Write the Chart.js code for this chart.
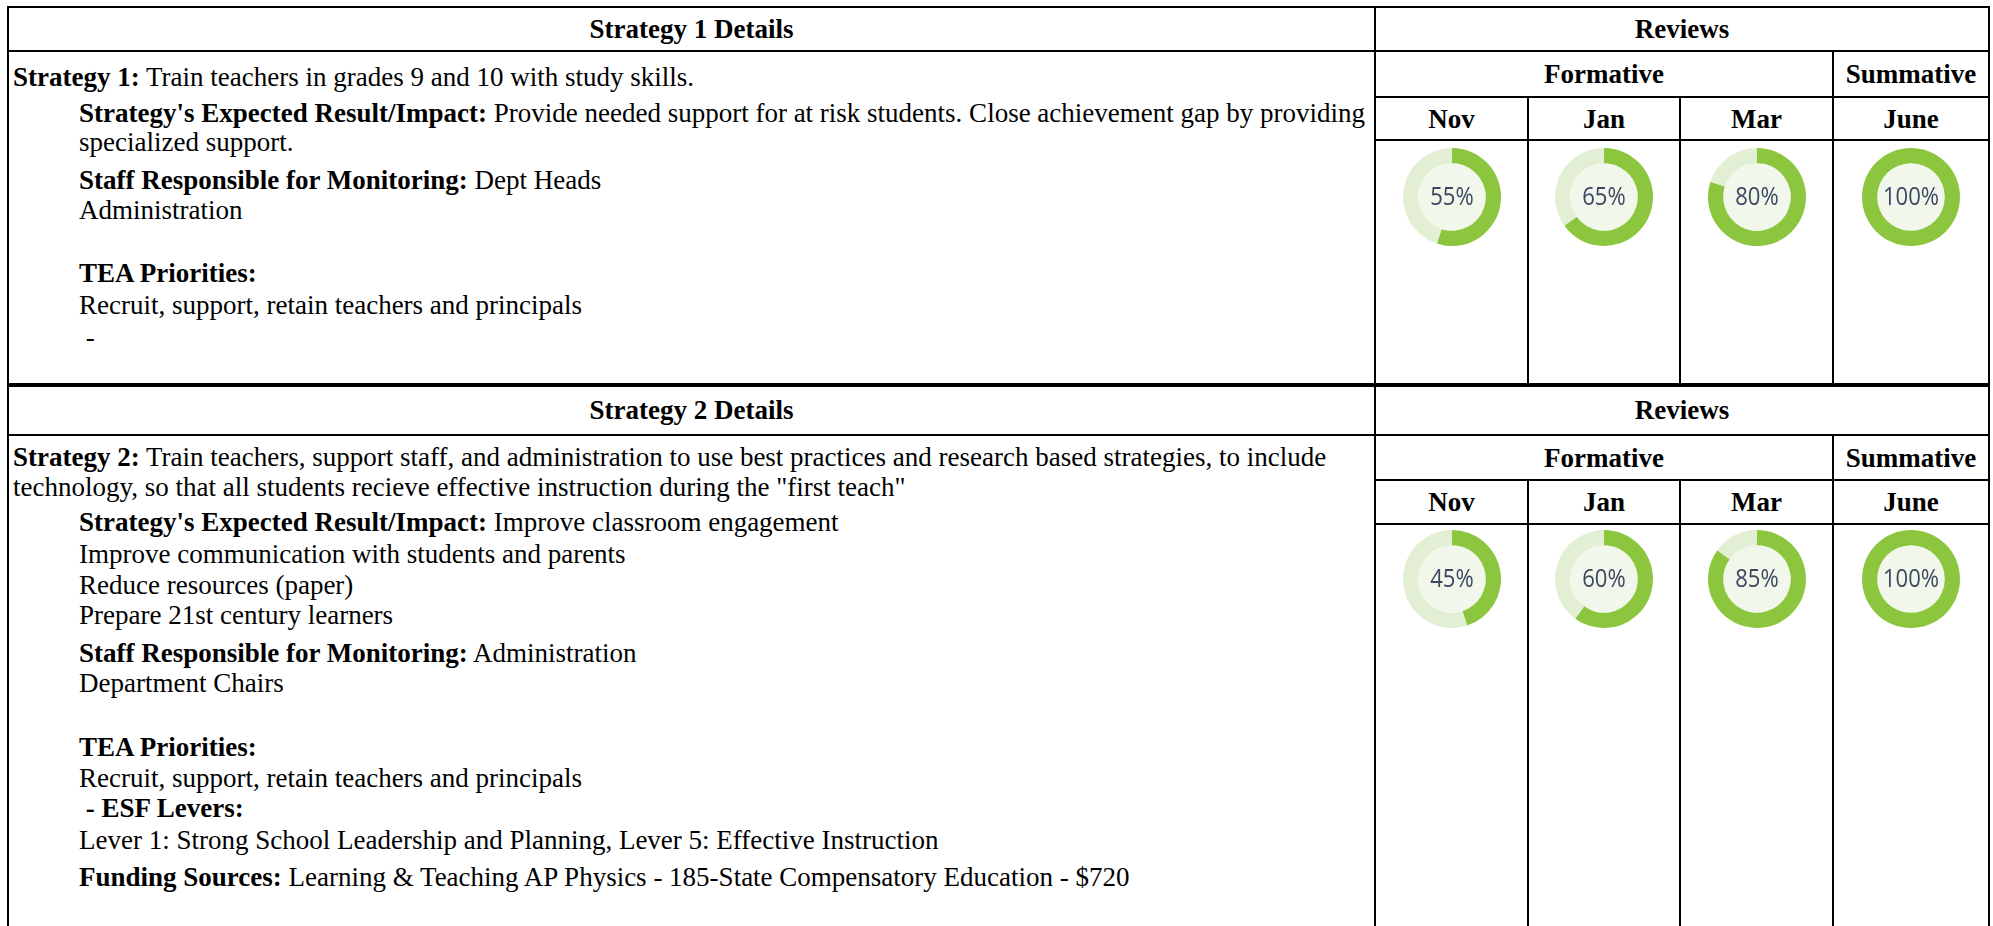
<!DOCTYPE html>
<html>
<head>
<meta charset="utf-8">
<script src="https://cdn.jsdelivr.net/npm/chart.js@4.4.0/dist/chart.umd.min.js"></script>
<style>
  html, body { margin: 0; padding: 0; background: #fff; }
  #page { position: relative; width: 1993px; height: 926px; overflow: hidden; background: #fff;
          font-family: "Liberation Serif", "Times New Roman", serif; color: #000; }
  .ln { position: absolute; background: #000; }
  .t { position: absolute; white-space: nowrap; font-size: 27px; line-height: 30px; }
  .hd { position: absolute; font-weight: bold; font-size: 27px; line-height: 30px; text-align: center; white-space: nowrap; }
  b { font-weight: bold; }
  canvas.dn { position: absolute; }
</style>
</head>
<body>
<div id="page"></div>
<script>
// ---- data ----
const months = ['Nov', 'Jan', 'Mar', 'June'];
const reviewGroups = ['Formative', 'Summative'];
const strategy1Values = [55, 65, 80, 100];
const strategy2Values = [45, 60, 85, 100];
const strategyTitles = ['Strategy 1 Details', 'Strategy 2 Details'];
const strategy1Lines = [
  ['Strategy 1:', ' Train teachers in grades 9 and 10 with study skills.'],
  ['Strategy\'s Expected Result/Impact:', ' Provide needed support for at risk students. Close achievement gap by providing'],
  ['', 'specialized support.'],
  ['Staff Responsible for Monitoring:', ' Dept Heads'],
  ['', 'Administration'],
  ['TEA Priorities:', ''],
  ['', 'Recruit, support, retain teachers and principals'],
  ['', '\u00a0-']
];
const strategy2Lines = [
  ['Strategy 2:', ' Train teachers, support staff, and administration to use best practices and research based strategies, to include'],
  ['', 'technology, so that all students recieve effective instruction during the "first teach"'],
  ['Strategy\'s Expected Result/Impact:', ' Improve classroom engagement'],
  ['', 'Improve communication with students and parents'],
  ['', 'Reduce resources (paper)'],
  ['', 'Prepare 21st century learners'],
  ['Staff Responsible for Monitoring:', ' Administration'],
  ['', 'Department Chairs'],
  ['TEA Priorities:', ''],
  ['', 'Recruit, support, retain teachers and principals'],
  ['\u00a0- ESF Levers:', ''],
  ['', 'Lever 1: Strong School Leadership and Planning, Lever 5: Effective Instruction'],
  ['Funding Sources:', ' Learning & Teaching AP Physics - 185-State Compensatory Education - $720']
];

// ---- layout ----
const page = document.getElementById('page');
const L = 8, R = 1989, DIV = 1375;
const colX = [1375, 1528, 1680, 1833, 1989];
function hl(x1, x2, y, t) { const d = document.createElement('div'); d.className = 'ln';
  d.style.left = x1 + 'px'; d.style.width = (x2 - x1) + 'px'; d.style.top = (y - t / 2) + 'px'; d.style.height = t + 'px'; page.appendChild(d); }
function vl(x, y1, y2, t) { const d = document.createElement('div'); d.className = 'ln';
  d.style.left = (x - t / 2) + 'px'; d.style.width = t + 'px'; d.style.top = y1 + 'px'; d.style.height = (y2 - y1) + 'px'; page.appendChild(d); }
function header(text, x1, x2, cy) { const d = document.createElement('div'); d.className = 'hd';
  d.style.left = x1 + 'px'; d.style.width = (x2 - x1) + 'px'; d.style.top = (cy - 15) + 'px'; d.textContent = text; page.appendChild(d); }
function line(parts, x, cy) { const d = document.createElement('div'); d.className = 't';
  d.style.left = x + 'px'; d.style.top = (cy - 15) + 'px';
  if (parts[0]) { const b = document.createElement('b'); b.textContent = parts[0]; d.appendChild(b); }
  d.appendChild(document.createTextNode(parts[1])); page.appendChild(d); }

const blocks = [
  { top: 7, hb: 51, fb: 97, mb: 140, bot: 385, cy: 197, values: strategy1Values, lines: strategy1Lines,
    ys: [77, 113, 142, 180, 210, 273, 305, 337], xs: [13, 79, 79, 79, 79, 79, 79, 79] },
  { top: 385, hb: 435, fb: 480, mb: 524, bot: 940, cy: 579, values: strategy2Values, lines: strategy2Lines,
    ys: [457, 487, 522, 554, 585, 615, 653, 683, 747, 778, 808, 840, 877], xs: [13, 13, 79, 79, 79, 79, 79, 79, 79, 79, 79, 79, 79] }
];

vl(L, 6, 926, 2); vl(R, 6, 926, 2); vl(DIV, 6, 926, 2);
hl(L - 1, R + 1, 7, 2);

blocks.forEach((bk, bi) => {
  hl(L - 1, R + 1, bk.hb, 2);
  hl(DIV, R + 1, bk.fb, 2);
  hl(DIV, R + 1, bk.mb, 2);
  vl(colX[3], bk.hb, bk.bot, 2);
  vl(colX[1], bk.fb, bk.bot, 2);
  vl(colX[2], bk.fb, bk.bot, 2);
  if (bi === 0) hl(L - 1, R + 1, bk.bot, 4);
  header(strategyTitles[bi], L, DIV, (bk.top + bk.hb) / 2);
  header('Reviews', DIV, R, (bk.top + bk.hb) / 2);
  header(reviewGroups[0], colX[0], colX[3], (bk.hb + bk.fb) / 2);
  header(reviewGroups[1], colX[3], colX[4], (bk.hb + bk.fb) / 2);
  months.forEach((m, i) => header(m, colX[i], colX[i + 1], (bk.fb + bk.mb) / 2));
  bk.lines.forEach((p, i) => line(p, bk.xs[i], bk.ys[i]));

  bk.values.forEach((v, i) => {
    const size = 100;
    const c = document.createElement('canvas');
    c.className = 'dn'; c.width = size; c.height = size;
    const cx = (colX[i] + colX[i + 1]) / 2;
    c.style.left = (cx - size / 2) + 'px'; c.style.top = (bk.cy - size / 2) + 'px';
    page.appendChild(c);
    new Chart(c, {
      type: 'doughnut',
      data: { labels: ['Done', 'Remaining'],
        datasets: [{ data: [v, 100 - v], backgroundColor: ['#8cc63f', '#e2efd4'], borderWidth: 0 }] },
      options: {
        responsive: false, animation: false, cutout: '69%',
        layout: { padding: 1 },
        plugins: { legend: { display: false }, tooltip: { enabled: false } }
      },
      plugins: [{
        id: 'center',
        beforeDatasetsDraw(chart) {
          const a = chart.getDatasetMeta(0).data[0];
          const ctx = chart.ctx; ctx.save();
          ctx.beginPath(); ctx.arc(a.x, a.y, a.innerRadius, 0, Math.PI * 2);
          ctx.fillStyle = '#f1f7ea'; ctx.fill(); ctx.restore();
        },
        afterDraw(chart) {
          const a = chart.getDatasetMeta(0).data[0];
          const ctx = chart.ctx; ctx.save();
          ctx.font = '24px "Open Sans", "Noto Sans", sans-serif';
          ctx.fillStyle = '#3c4762'; ctx.textAlign = 'center'; ctx.textBaseline = 'middle';
          ctx.translate(a.x, a.y + 1); ctx.scale(0.92, 1.05);
          ctx.fillText(v + '%', 0, 0); ctx.restore();
        }
      }]
    });
  });
});
</script>
</body>
</html>
